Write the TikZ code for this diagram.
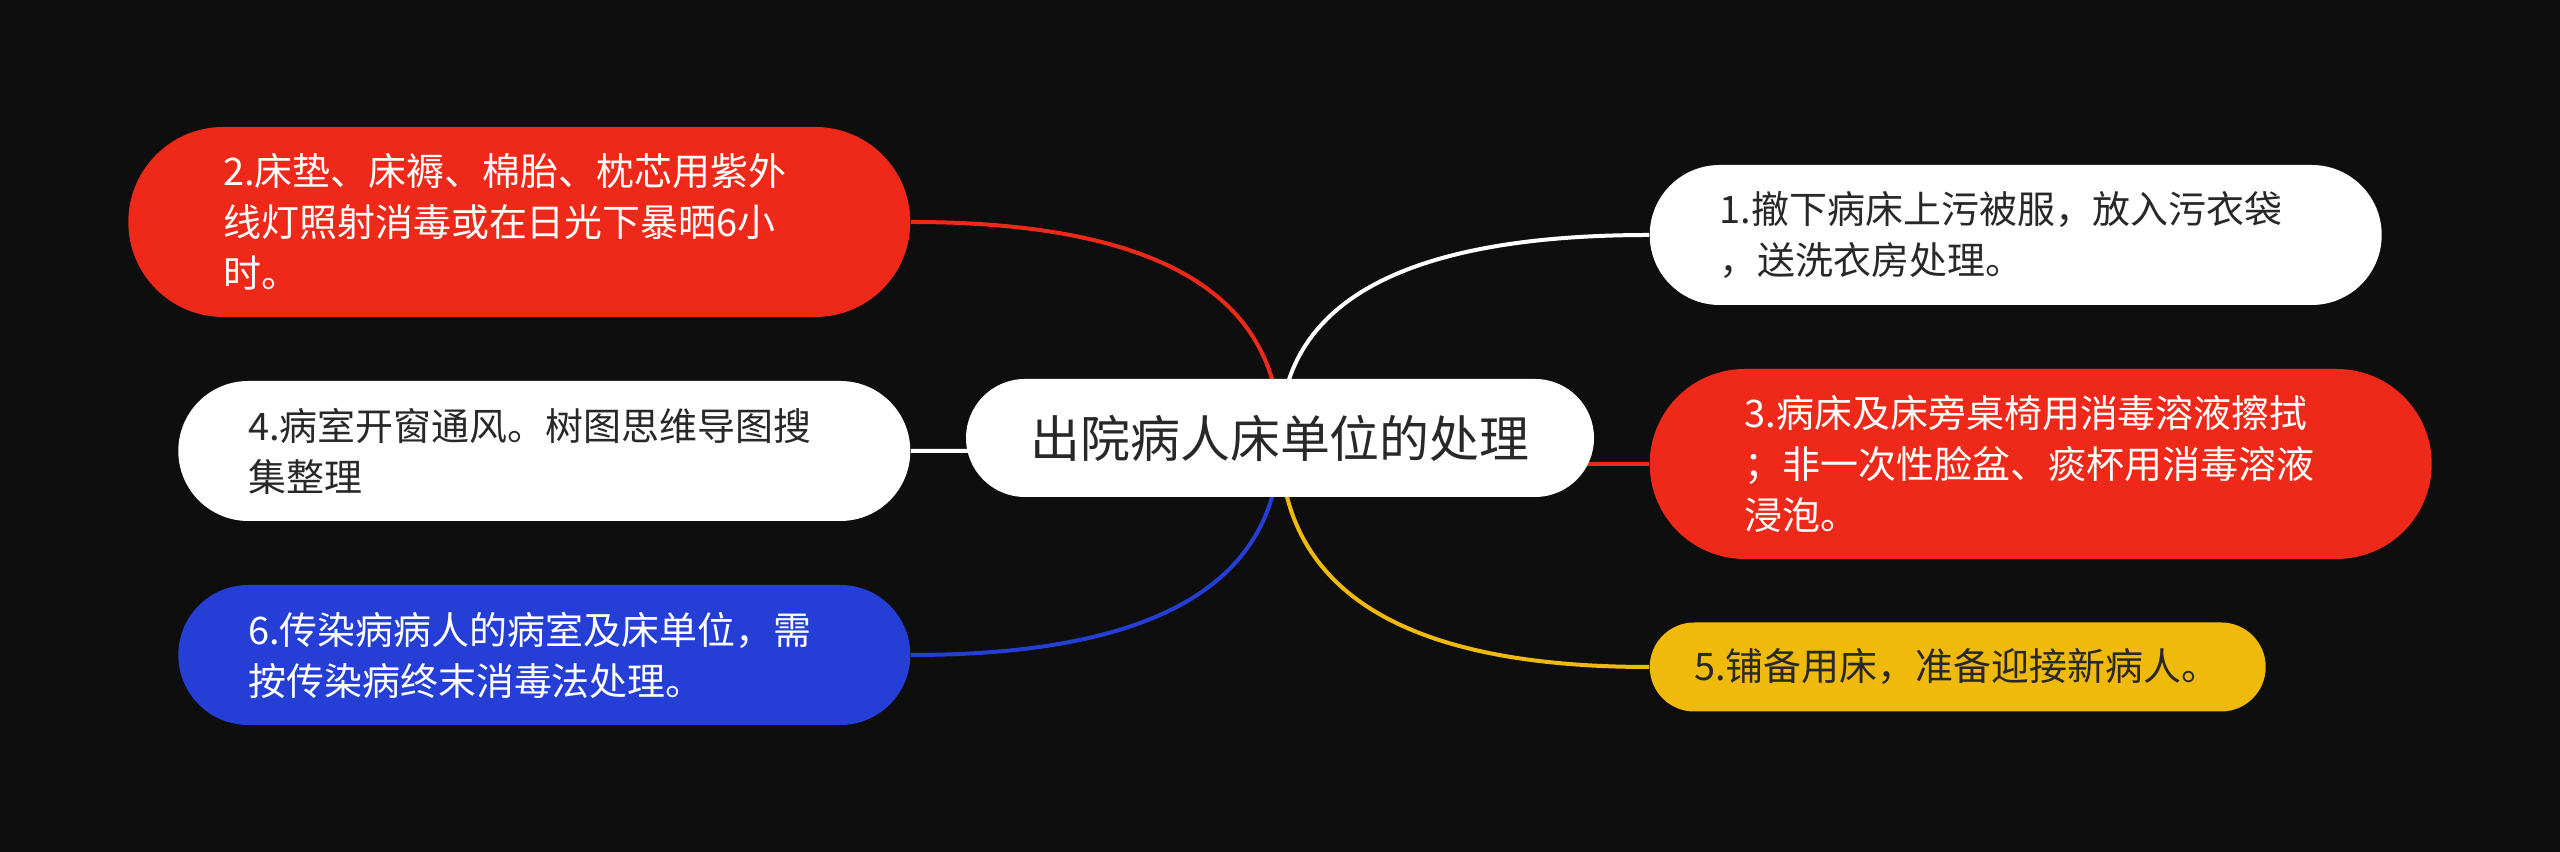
\documentclass[tikz,border=0pt]{standalone}
\usepackage{fontspec}
\usepackage{xcolor}
\newfontfamily\cjk{Noto Sans CJK SC}
\definecolor{bgblack}{RGB}{14, 14, 14}
\definecolor{topicred}{RGB}{239, 41, 25}
\definecolor{topicblue}{RGB}{36, 62, 214}
\definecolor{topicyellow}{RGB}{239, 186, 12}
\definecolor{textdark}{RGB}{40, 40, 40}
\usetikzlibrary{calc, backgrounds}

\begin{document}
\begin{tikzpicture}[
    pill/.style={rectangle, align=left, text width=5.92cm, inner ysep=0pt, font=\cjk\fontsize{10.8}{14.5}\selectfont},
    pillsmall/.style={pill, minimum height=1.40cm, rounded corners=0.70cm, inner xsep=0.70cm},
    pilltall/.style={pill, minimum height=1.90cm, rounded corners=0.95cm, inner xsep=0.95cm},
    rootbox/.style={rectangle, fill=white, text=textdark, align=center, text width=5.10cm, minimum height=1.18cm, rounded corners=0.59cm, inner xsep=0.59cm, inner ysep=0pt, font=\cjk\fontsize{14.2}{17}\selectfont},
    branch/.style={line width=0.04cm, to path={.. controls ($(\tikztostart)!0.667!(\tikztostart |- \tikztotarget)$) and ($(\tikztotarget)!0.667!(\tikztostart |- \tikztotarget)$) .. (\tikztotarget)}}
]
    \useasboundingbox (0,0) rectangle (25.6,8.52);

    % Central topic
    \node[rootbox] (root) at (12.80,4.14) {出院病人床单位的处理};

    % Left branches
    \node[pilltall, fill=topicred, text=white, anchor=east] (n2) at (9.11,6.30) {2.床垫、床褥、棉胎、枕芯用紫外\\线灯照射消毒或在日光下暴晒6小\\时。};
    \node[pillsmall, fill=white, text=textdark, anchor=east] (n4) at (9.11,4.01) {4.病室开窗通风。树图思维导图搜\\集整理};
    \node[pillsmall, fill=topicblue, text=white, anchor=east] (n6) at (9.11,1.97) {6.传染病病人的病室及床单位，需\\按传染病终末消毒法处理。};

    % Right branches
    \node[pillsmall, fill=white, text=textdark, anchor=west] (n1) at (16.49,6.17) {1.撤下病床上污被服，放入污衣袋\\，送洗衣房处理。};
    \node[pilltall, fill=topicred, text=white, anchor=west] (n3) at (16.49,3.88) {3.病床及床旁桌椅用消毒溶液擦拭\\；非一次性脸盆、痰杯用消毒溶液\\浸泡。};
    \node[pill, text width=5.27cm, minimum height=0.89cm, rounded corners=0.445cm, inner xsep=0.445cm, fill=topicyellow, text=textdark, anchor=west] (n5) at (16.49,1.85) {5.铺备用床，准备迎接新病人。};

    % Background and connectors
    \begin{scope}[on background layer]
        \fill[bgblack] (0,0) rectangle (25.6,8.52);
        \draw[branch, topicred] (root.center) to (n2.east);
        \draw[branch, white] (root.center) to (n4.east);
        \draw[branch, topicblue] (root.center) to (n6.east);
        \draw[branch, white] (root.center) to (n1.west);
        \draw[branch, topicred] (root.center) to (n3.west);
        \draw[branch, topicyellow] (root.center) to (n5.west);
    \end{scope}
\end{tikzpicture}
\end{document}
